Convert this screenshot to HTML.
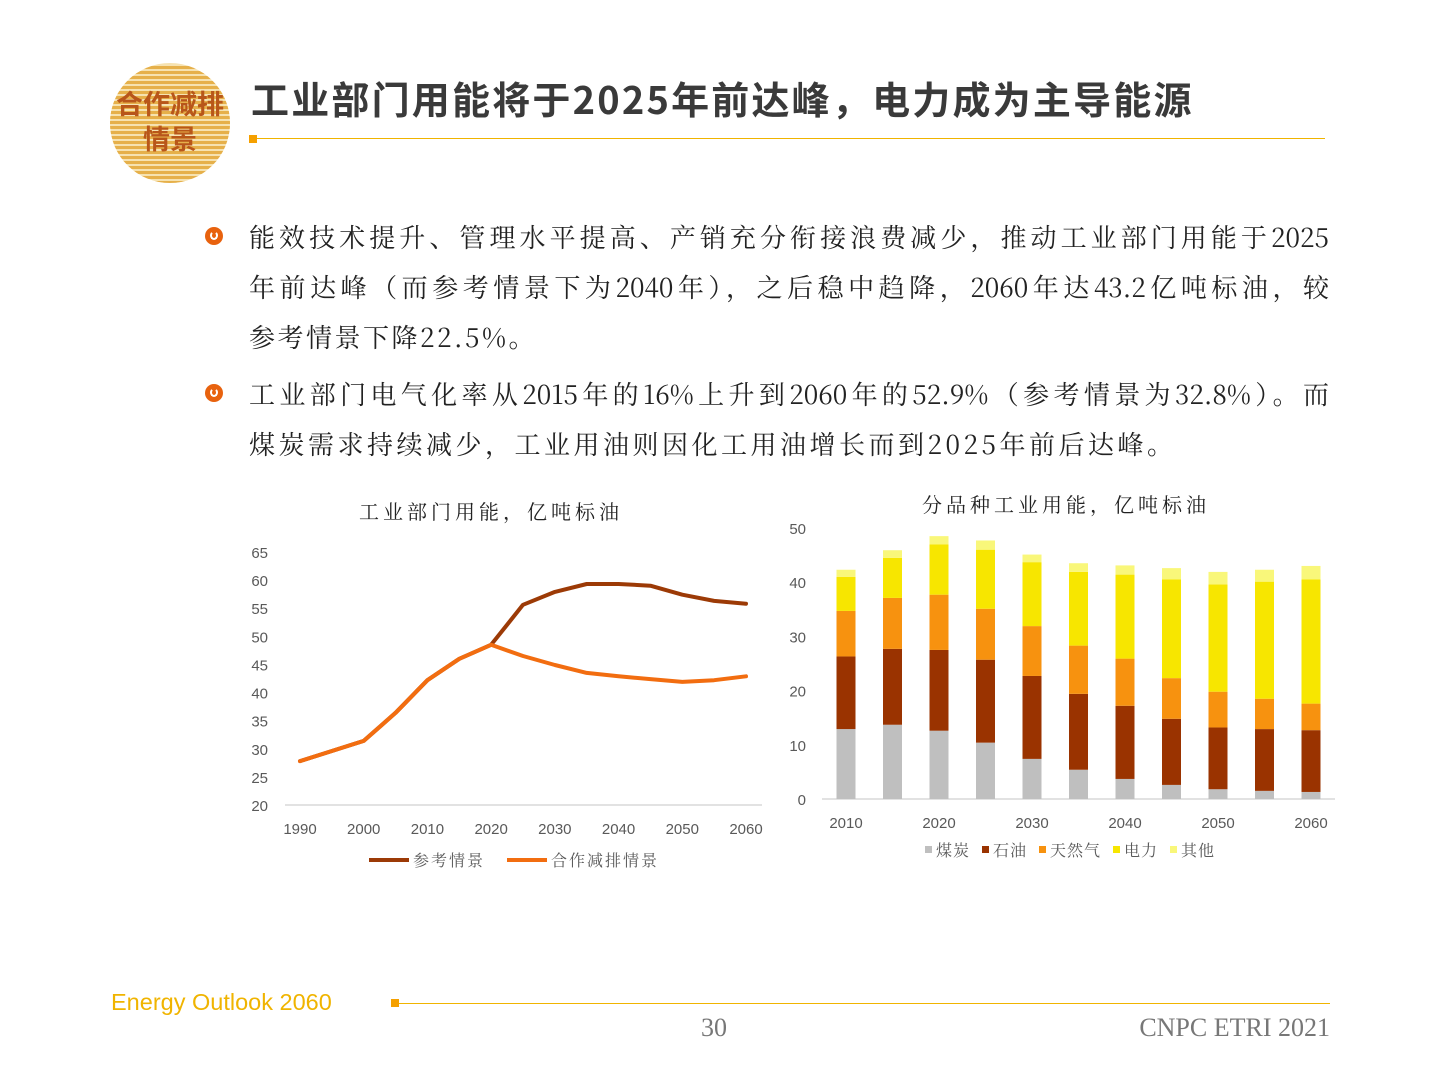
<!DOCTYPE html>
<html><head><meta charset="utf-8">
<style>
html,body{margin:0;padding:0;background:#fff;}
body{width:1440px;height:1080px;position:relative;overflow:hidden;font-family:"Liberation Sans","Noto Sans CJK SC",sans-serif;}
.abs{position:absolute;}
.title{left:251px;top:72px;font-size:38px;font-weight:bold;color:#3a3a3a;letter-spacing:2.2px;white-space:nowrap;font-family:"Noto Sans CJK SC",sans-serif;line-height:52px;}
.para{left:249px;width:1080px;font-family:"Noto Serif CJK SC",serif;font-size:26px;line-height:50px;color:#222;}
.para div{text-align:justify;text-align-last:justify;white-space:nowrap;height:50px;}
.para div.last{text-align-last:left;}
.bullet{width:18px;height:18px;border-radius:50%;background:#e8620e;}
.bullet::after{content:"";position:absolute;left:5px;top:4px;width:8px;height:9px;border-radius:50%;border:2px solid #fff;border-top-color:transparent;box-sizing:border-box;}
</style></head>
<body>
<div class="abs" style="left:109px;top:62px;width:122px;height:122px;">
<svg width="122" height="122">
<defs><clipPath id="cc"><circle cx="61" cy="61" r="60"/></clipPath></defs>
<circle cx="61" cy="61" r="60" fill="#f6e2b0"/>
<g clip-path="url(#cc)" id="stripes"></g>
<text x="61" y="52" text-anchor="middle" font-size="27" font-weight="bold" fill="#b8561a" font-family="Liberation Sans,Noto Sans CJK SC,sans-serif">合作减排</text>
<text x="61" y="87" text-anchor="middle" font-size="27" font-weight="bold" fill="#b8561a" font-family="Liberation Sans,Noto Sans CJK SC,sans-serif">情景</text>
</svg></div>
<div class="abs title">工业部门用能将于2025年前达峰，电力成为主导能源</div>
<div class="abs" style="left:250px;top:138px;width:1075px;height:1px;background:#f0b400;"></div>
<div class="abs" style="left:249px;top:135px;width:8px;height:8px;background:#f5a000;"></div>

<div class="abs bullet" style="left:205px;top:227px;"></div>
<div class="abs para" style="top:212px;">
<div>能效技术提升、管理水平提高、产销充分衔接浪费减少，推动工业部门用能于2025</div>
<div>年前达峰（而参考情景下为2040年），之后稳中趋降，2060年达43.2亿吨标油，较</div>
<div class="last" style="letter-spacing:2.5px">参考情景下降22.5%。</div>
</div>
<div class="abs bullet" style="left:205px;top:384px;"></div>
<div class="abs para" style="top:369px;">
<div>工业部门电气化率从2015年的16%上升到2060年的52.9%（参考情景为32.8%）。而</div>
<div class="last" style="letter-spacing:3.5px">煤炭需求持续减少，工业用油则因化工用油增长而到2025年前后达峰。</div>
</div>

<svg class="abs" style="left:0;top:0" width="1440" height="1080" id="charts">
<g font-family="Liberation Sans,Noto Sans CJK SC,sans-serif" fill="#595959">
<text x="491" y="519" text-anchor="middle" font-size="20" fill="#222" font-family="Noto Serif CJK SC,serif" letter-spacing="4">工业部门用能，亿吨标油</text>
<text x="1066" y="512" text-anchor="middle" font-size="20" fill="#222" font-family="Noto Serif CJK SC,serif" letter-spacing="4">分品种工业用能，亿吨标油</text>
<g id="left"></g><g id="right"></g>
</g>
</svg>

<div class="abs" style="left:111px;top:989px;font-size:23.5px;color:#f0b400;">Energy Outlook 2060</div>
<div class="abs" style="left:395px;top:1003px;width:935px;height:1px;background:#f0b400;"></div>
<div class="abs" style="left:391px;top:999px;width:8px;height:8px;background:#f5a000;"></div>
<div class="abs" style="left:701px;top:1013px;font-size:26px;color:#777;font-family:'Liberation Serif',serif;">30</div>
<div class="abs" style="right:110px;top:1013px;font-size:26px;color:#777;font-family:'Liberation Serif',serif;">CNPC ETRI 2021</div>

<script>
var sg=document.getElementById('stripes');
for(var yy=4;yy<122;yy+=5){var r=document.createElementNS('http://www.w3.org/2000/svg','rect');r.setAttribute('x',0);r.setAttribute('y',yy);r.setAttribute('width',122);r.setAttribute('height',3);r.setAttribute('fill','#e6b04a');sg.appendChild(r);}

var NS='http://www.w3.org/2000/svg';
function mk(p,tag,a,txt){var e=document.createElementNS(NS,tag);for(var k in a)e.setAttribute(k,a[k]);if(txt!=null)e.textContent=txt;p.appendChild(e);return e;}

var lineYears=[1990,1995,2000,2005,2010,2015,2020,2025,2030,2035,2040,2045,2050,2055,2060];
var refValues=[27.8,29.6,31.4,36.4,42.2,46,48.5,55.6,57.9,59.3,59.3,59,57.4,56.3,55.8];
var coopValues=[27.8,29.6,31.4,36.4,42.2,46,48.5,46.5,44.9,43.5,42.9,42.4,41.9,42.2,42.9];
var leftYTicks=[20,25,30,35,40,45,50,55,60,65];
var leftXTicks=[1990,2000,2010,2020,2030,2040,2050,2060];

var L=document.getElementById('left');
function lx(y){return 300+(y-1990)*(446/70);}
function ly(v){return 805-(v-20)*(253/45);}
mk(L,'line',{x1:285,x2:762,y1:805,y2:805,stroke:'#d9d9d9','stroke-width':1.5});
leftYTicks.forEach(function(t){var e=mk(L,'text',{x:268,y:ly(t)+6,'text-anchor':'end','font-size':15},t);

});
leftXTicks.forEach(function(t){var e=mk(L,'text',{x:lx(t),y:834,'text-anchor':'middle','font-size':15},t);

});
function path(vals){return vals.map(function(v,i){return (i?'L':'M')+lx(lineYears[i]).toFixed(1)+','+ly(v).toFixed(1);}).join('');}
var p1=mk(L,'path',{d:path(refValues),fill:'none',stroke:'#9c3a06','stroke-width':4,'stroke-linejoin':'round','stroke-linecap':'round'});


var p2=mk(L,'path',{d:path(coopValues),fill:'none',stroke:'#f26d10','stroke-width':4,'stroke-linejoin':'round','stroke-linecap':'round'});


var lg1=mk(L,'line',{x1:369,x2:409,y1:860,y2:860,stroke:'#9c3a06','stroke-width':4});

var t1=mk(L,'text',{x:413,y:866,'font-size':16,'letter-spacing':2,'font-family':'Noto Serif CJK SC,serif'},'参考情景');


var lg2=mk(L,'line',{x1:507,x2:547,y1:860,y2:860,stroke:'#f26d10','stroke-width':4});

var t2=mk(L,'text',{x:551,y:866,'font-size':16,'letter-spacing':2,'font-family':'Noto Serif CJK SC,serif'},'合作减排情景');



var barYears=[2010,2015,2020,2025,2030,2035,2040,2045,2050,2055,2060];
var coal=[12.9,13.7,12.6,10.4,7.4,5.4,3.7,2.6,1.8,1.5,1.3];
var oil=[13.4,14.0,14.9,15.3,15.3,14.0,13.5,12.2,11.4,11.4,11.4];
var gas=[8.4,9.4,10.2,9.4,9.2,8.9,8.7,7.5,6.6,5.6,4.9];
var electricity=[6.3,7.4,9.3,10.9,11.8,13.6,15.5,18.2,19.8,21.6,22.9];
var other=[1.3,1.4,1.5,1.7,1.4,1.6,1.7,2.1,2.3,2.2,2.5];
var rightYTicks=[0,10,20,30,40,50];
var rightXTicks=[2010,2020,2030,2040,2050,2060];
var seriesNames=['煤炭','石油','天然气','电力','其他'];
var seriesKeys=['coal','oil','gas','electricity','other'];
var series=[coal,oil,gas,electricity,other];
var colors=['#bfbfbf','#9a3300','#f7920f','#f7e600','#f9f77a'];

var R=document.getElementById('right');
function rx(y){return 846+(y-2010)*(465/50);}
function ry(v){return 799-v*(271/50);}
mk(R,'line',{x1:822,x2:1335,y1:799,y2:799,stroke:'#d9d9d9','stroke-width':1.5});
rightYTicks.forEach(function(t){var e=mk(R,'text',{x:806,y:ry(t)+6,'text-anchor':'end','font-size':15},t);

});
rightXTicks.forEach(function(t){var e=mk(R,'text',{x:rx(t),y:828,'text-anchor':'middle','font-size':15},t);

});
barYears.forEach(function(yr,i){var base=0;
series.forEach(function(s,j){var top=base+s[i];
var r=mk(R,'rect',{x:rx(yr)-9.5,y:ry(top),width:19,height:ry(base)-ry(top),fill:colors[j]});


base=top;});});
var lgx=[925,982,1039,1113,1170];
seriesNames.forEach(function(n,j){
var s=mk(R,'rect',{x:lgx[j],y:846,width:7,height:7,fill:colors[j]});

var t=mk(R,'text',{x:lgx[j]+11,y:856,'font-size':16,'letter-spacing':1,'font-family':'Noto Serif CJK SC,serif'},n);

});
</script>
</body></html>
